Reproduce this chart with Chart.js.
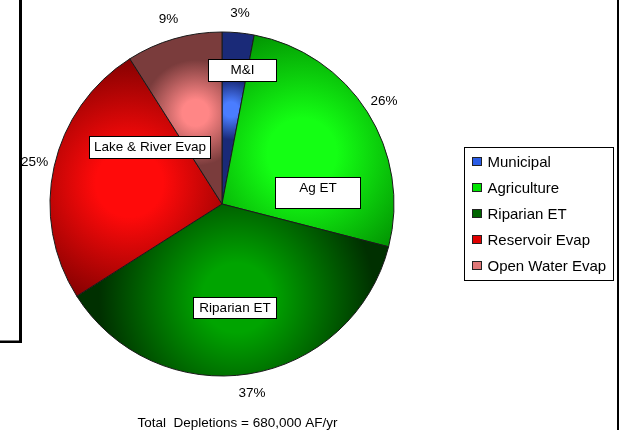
<!DOCTYPE html>
<html>
<head>
<meta charset="utf-8">
<script src="https://cdn.jsdelivr.net/npm/chart.js@4/dist/chart.umd.min.js"></script>
<style>
  html, body { margin: 0; padding: 0; background: #fff; }
  #wrap { position: relative; width: 625px; height: 430px; }
</style>
</head>
<body>
<div id="wrap"><canvas id="pieChart" width="625" height="430"></canvas></div>
<script>
// --- Data ---
const categories = ['Municipal', 'Agriculture', 'Riparian ET', 'Reservoir Evap', 'Open Water Evap'];
const shares = [3, 26, 37, 25, 9];
const sliceTags = ['M&I', 'Ag ET', 'Riparian ET', 'Lake & River Evap', null];
const footnote = 'Total  Depletions = 680,000 AF/yr';

// --- Colours ---
const lightColors = ['#4a7dff', '#14ff14', '#00a400', '#ff0a0a', '#ff8686'];
const darkColors = ['#1a2a78', '#008800', '#003000', '#780000', '#7a3c3c'];
const legendColors = ['#2a5de6', '#00e400', '#006400', '#e00000', '#e07878'];

const FONT = 'Arial, "Liberation Sans", sans-serif';

// box positions for the slice tags, as fractions of the radius from the pie centre
const tagBoxes = [
    { dx: 0.116, dy: -0.779, w: 68, h: 22 },
    { dx: 0.551, dy: -0.067, w: 85, h: 31 },
    { dx: 0.073, dy: 0.602, w: 83, h: 21 },
    { dx: -0.422, dy: -0.331, w: 121, h: 22 },
    null
];

const total = shares.reduce((a, b) => a + b, 0);

function pieGeometry(chart) {
    const area = chart.chartArea;
    const cx = (area.left + area.right) / 2;
    const cy = (area.top + area.bottom) / 2;
    const r = Math.min(area.right - area.left, area.bottom - area.top) / 2;
    return { cx, cy, r };
}

// radial "from centre" shading for each slice
function sliceFill(ctx) {
    const chart = ctx.chart;
    const i = ctx.dataIndex;
    if (!chart.chartArea || i === undefined) return lightColors[0];
    const { cx, cy, r } = pieGeometry(chart);
    let before = 0;
    for (let k = 0; k < i; k++) before += shares[k];
    const a0 = -Math.PI / 2 + before / total * 2 * Math.PI;
    const a1 = a0 + shares[i] / total * 2 * Math.PI;
    const mid = (a0 + a1) / 2;
    const half = (a1 - a0) / 2;
    const d = 0.55 * r;
    const gx = cx + Math.cos(mid) * d;
    const gy = cy + Math.sin(mid) * d;
    const gr = Math.max(30, Math.min(0.8 * r, d * Math.sin(Math.min(half, Math.PI / 2)) * 2.0));
    const g = chart.ctx.createRadialGradient(gx, gy, 0, gx, gy, gr);
    g.addColorStop(0, lightColors[i]);
    g.addColorStop(0.25, lightColors[i]);
    g.addColorStop(1, darkColors[i]);
    return g;
}

const decorations = {
    id: 'decorations',
    afterDatasetsDraw(chart) {
        const c = chart.ctx;
        const meta = chart.getDatasetMeta(0);
        const { cx, cy, r } = pieGeometry(chart);
        c.save();

        // percentage labels outside the slices
        c.font = '13.5px ' + FONT;
        c.fillStyle = '#000';
        c.textAlign = 'center';
        c.textBaseline = 'middle';
        meta.data.forEach((arc, i) => {
            const mid = (arc.startAngle + arc.endAngle) / 2;
            const d = arc.outerRadius + 20;
            const pct = Math.round(shares[i] / total * 100) + '%';
            c.fillText(pct, arc.x + Math.cos(mid) * d, arc.y + Math.sin(mid) * d);
        });

        // tag boxes on the slices
        sliceTags.forEach((tag, i) => {
            const b = tagBoxes[i];
            if (!tag || !b) return;
            const x = Math.round(cx + b.dx * r - b.w / 2) + 0.5;
            const y = Math.round(cy + b.dy * r - b.h / 2) + 0.5;
            c.fillStyle = '#fff';
            c.fillRect(x, y, b.w, b.h);
            c.strokeStyle = '#000';
            c.lineWidth = 1;
            c.strokeRect(x, y, b.w, b.h);
            c.fillStyle = '#000';
            c.fillText(tag, x + b.w / 2, y + 11);
        });

        // legend
        const lx = 464.5, ly = 147.5, lw = 149, lh = 133;
        c.fillStyle = '#fff';
        c.fillRect(lx, ly, lw, lh);
        c.strokeStyle = '#000';
        c.lineWidth = 1;
        c.strokeRect(lx, ly, lw, lh);
        c.font = '15px ' + FONT;
        c.textAlign = 'left';
        categories.forEach((name, i) => {
            const rowY = 162 + i * 26;
            c.fillStyle = legendColors[i];
            c.fillRect(472, rowY - 5, 10, 9);
            c.strokeStyle = '#222';
            c.strokeRect(472.5, rowY - 4.5, 9, 8);
            c.fillStyle = '#000';
            c.fillText(name, 487.5, rowY + 1);
        });

        // footnote
        c.font = '13.5px ' + FONT;
        c.textAlign = 'center';
        c.fillText(footnote, 237.5, 423);

        // frame pieces left over from the page
        c.fillStyle = '#fff';
        c.fillRect(0, 0, 19, 341);
        c.fillStyle = '#000';
        c.fillRect(19, 0, 3, 343);
        c.fillRect(0, 340.5, 21, 2.5);
        c.fillRect(617, 0, 2, 430);
        c.restore();
    }
};

new Chart(document.getElementById('pieChart'), {
    type: 'pie',
    data: {
        labels: categories,
        datasets: [{
            data: shares,
            backgroundColor: sliceFill,
            borderColor: '#1a1a1a',
            borderWidth: 1
        }]
    },
    options: {
        responsive: false,
        animation: false,
        layout: { padding: { left: 49.5, top: 31.5, right: 230.5, bottom: 53.5 } },
        plugins: {
            legend: { display: false },
            tooltip: { enabled: false }
        }
    },
    plugins: [decorations]
});
</script>
</body>
</html>
